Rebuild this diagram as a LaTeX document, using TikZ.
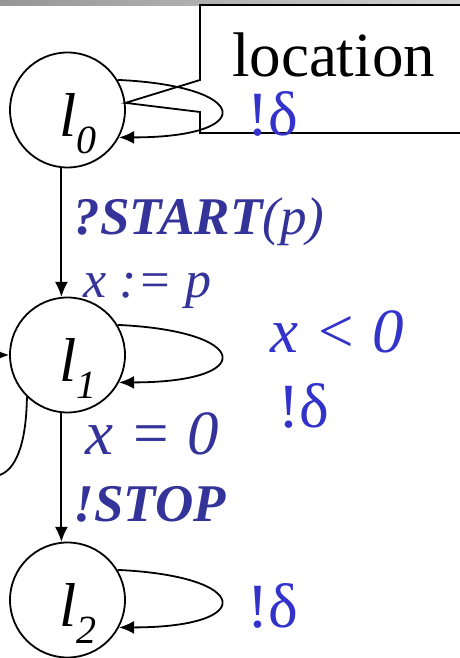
\documentclass[tikz,border=0pt]{standalone}
\usepackage{fontspec}
\setmainfont{Liberation Serif}
\usetikzlibrary{arrows.meta, positioning}
\definecolor{labdark}{RGB}{51,51,153}
\definecolor{labblue}{RGB}{51,51,204}
\definecolor{barleft}{RGB}{150,150,150}
\definecolor{barright}{RGB}{210,210,210}
\newcommand{\locname}[2]{\hspace{21pt}#1\raisebox{-17pt}{\fontsize{40}{40}\selectfont #2}}

\begin{document}
\begin{tikzpicture}[x=1pt, y=1pt, line width=1.8pt,
    every node/.style={inner sep=0pt},
    loc/.style={draw, circle, minimum size=115pt, text height=71pt, text depth=17pt,
        font=\fontsize{62}{62}\selectfont\itshape},
    act/.style={anchor=base west, text=labdark, font=\fontsize{53}{53}\selectfont\itshape},
    dlt/.style={anchor=base west, text=labblue, font=\fontsize{63}{63}\selectfont},
    arr/.style={-{Latex[length=15pt,width=13pt]}}]
    \useasboundingbox (0,0) rectangle (460,658);
    \clip (0,0) rectangle (460,658);
    \shade[left color=barleft, right color=barright] (0,652) rectangle (460,658);
    % locations
    \node[loc] (l0) at (67.5,548) {\locname{l}{0}};
    \node[loc] (l1) at (67.5,303) {\locname{l}{1}};
    \node[loc] (l2) at (67.5,58) {\locname{l}{2}};
    % callout
    \draw (470,653) -- (200,653) -- (200,578) -- (l0.7) -- (200,546) -- (200,525) -- (470,525);
    \node[anchor=base, font=\fontsize{63}{63}\selectfont] (loctext) at (333.5,581) {location};
    % edges
    \draw[arr] (l0.264) -- (l1.96);
    \draw[arr] (l1.264) -- (l2.96);
    \draw[arr] (l0.31) .. controls +(134,-6) and +(139,0) .. (l0.-28);
    \draw[arr] (l1.31) .. controls +(134,-6) and +(139,0) .. (l1.-28);
    \draw[arr] (l2.31) .. controls +(134,-6) and +(139,0) .. (l2.-28);
    \draw[arr] (l1.226) .. controls +(-3,-200) and +(-160,0) .. (l1.west);
    % labels
    \node[dlt] (dl0) at (247,522) {!δ};
    \node[act] (start) at (73,423) {{\bfseries ?START}(p)};
    \node[act, font=\fontsize{52}{52}\selectfont\itshape] (upd) at (83,360) {x := p};
    \node[dlt, font=\fontsize{63}{63}\selectfont\itshape] (grd1) at (270,305) {x < 0};
    \node[dlt] (dl1) at (278,230) {!δ};
    \node[act, font=\fontsize{63}{63}\selectfont\itshape] (grd2) at (85,203) {x = 0};
    \node[act, font=\fontsize{53}{53}\selectfont\bfseries\itshape] (stop) at (73,136) {!STOP};
    \node[dlt] (dl2) at (247,30) {!δ};
\end{tikzpicture}
\end{document}
